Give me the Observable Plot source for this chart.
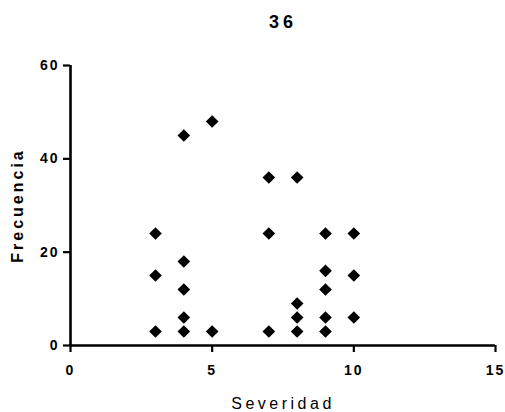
<!DOCTYPE html>
<html>
<head>
<meta charset="utf-8">
<script src="https://cdn.jsdelivr.net/npm/d3@7"></script>
<script src="https://cdn.jsdelivr.net/npm/@observablehq/plot@0.6"></script>
<style>
  html, body { margin: 0; padding: 0; background: #fff; }
  svg { display: block; }
</style>
</head>
<body>
<div id="chart"></div>
<script>
const title = "36";
const xLabel = "Severidad";
const yLabel = "Frecuencia";
const xTicks = [0, 5, 10, 15];
const yTicks = [0, 20, 40, 60];
const severidad  = [3, 3, 3, 4, 4, 4, 4, 4, 5, 5, 7, 7, 7, 8, 8, 8, 8, 9, 9, 9, 9, 9, 10, 10, 10];
const frecuencia = [24, 15, 3, 45, 18, 12, 6, 3, 48, 3, 36, 24, 3, 36, 9, 6, 3, 24, 16, 12, 6, 3, 24, 15, 6];

const points = severidad.map((x, i) => ({x, y: frecuencia[i]}));
const font = "'Liberation Sans', Arial, sans-serif";

const chart = Plot.plot({
  width: 505,
  height: 412,
  marginLeft: 70,
  marginRight: 10,
  marginTop: 65,
  marginBottom: 67,
  style: {fontFamily: font, background: "#fff", color: "#000"},
  x: {domain: [0, 15], axis: null},
  y: {domain: [0, 60], axis: null},
  marks: [
    Plot.axisX({ticks: xTicks, tickSize: 7, tickPadding: 13, strokeWidth: 2.2, fontSize: 14, fontWeight: "bold", tickFormat: d => d, label: null}),
    Plot.axisY({ticks: yTicks, tickSize: 7, tickPadding: 4, strokeWidth: 2.2, fontSize: 14, fontWeight: "bold", tickFormat: d => d, label: null}),
    Plot.ruleY([0], {x1: 0, x2: 15, stroke: "#000", strokeWidth: 2.6}),
    Plot.ruleX([0], {y1: 0, y2: 60, stroke: "#000", strokeWidth: 2.6}),
    Plot.dot(points, {x: "x", y: "y", symbol: "diamond2", r: 5.7, fill: "#000", stroke: "none"}),
    Plot.text([title], {frameAnchor: "top", textAnchor: "middle", lineAnchor: "middle", dy: -43.5, fontSize: 18, fontWeight: "bold", text: d => d}),
    Plot.text([xLabel], {frameAnchor: "bottom", textAnchor: "middle", lineAnchor: "middle", dy: 58.7, fontSize: 16, text: d => d}),
    Plot.text([yLabel], {frameAnchor: "left", textAnchor: "middle", lineAnchor: "middle", rotate: -90, dx: -52.5, fontSize: 16, fontWeight: "bold", text: d => d})
  ]
});

document.getElementById("chart").appendChild(chart);

// letter spacing to mimic the reference typography
d3.select(chart).selectAll("text").each(function() {
  const t = this.textContent;
  const s = d3.select(this);
  if (t === title) s.style("letter-spacing", "4px");
  else if (t === xLabel) s.style("letter-spacing", "3.5px");
  else if (t === yLabel) s.style("letter-spacing", "3px");
  else s.style("letter-spacing", "2px");
});
</script>
</body>
</html>
